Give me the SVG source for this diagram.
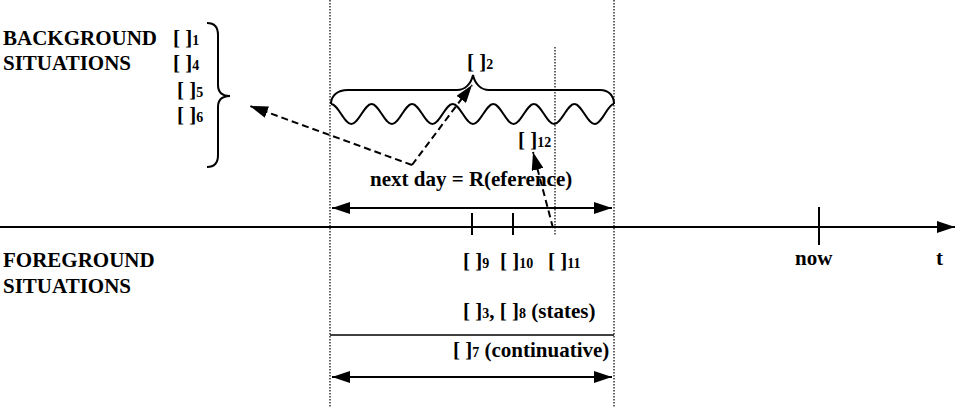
<svg xmlns="http://www.w3.org/2000/svg" width="964" height="408" viewBox="0 0 964 408">
<style>
text{font-family:'Liberation Serif','Times New Roman','DejaVu Serif',serif;font-weight:700;font-size:21px;fill:#000}
.sub{font-size:14px}
.dot{stroke:#000;stroke-width:1.2;stroke-dasharray:1.5 1.5;fill:none}
.solid{stroke:#000;fill:none;stroke-width:2}
.dash{stroke:#000;fill:none;stroke-width:2;stroke-dasharray:7 4}
</style>
<defs>
<marker id="ah" viewBox="0 0 18 12" refX="18" refY="6" markerWidth="18" markerHeight="12" markerUnits="userSpaceOnUse" orient="auto-start-reverse">
<path d="M0,0 L18,6 L0,12 z" fill="#000"/>
</marker>
</defs>
<rect width="964" height="408" fill="#fff"/>

<g id="borders">
<line class="dot" x1="330" y1="0" x2="330" y2="408"/>
<line class="dot" x1="614" y1="0" x2="614" y2="408"/>
<line class="dot" x1="555" y1="47" x2="555" y2="235"/>
</g>

<g id="background-label">
<text x="3" y="45">BACKGROUND</text>
<text x="3" y="70">SITUATIONS</text>
<text x="173" y="45">[ ]<tspan class="sub">1</tspan></text>
<text x="173" y="70">[ ]<tspan class="sub">4</tspan></text>
<text x="177" y="97">[ ]<tspan class="sub">5</tspan></text>
<text x="177" y="122">[ ]<tspan class="sub">6</tspan></text>
<path class="solid" d="M207,23 C215,23 218,27 218,35 L218,85 C218,92 222,96 230,96 C222,96 218,100 218,107 L218,155 C218,163 215,167 207,167"/>
</g>

<g id="foreground-label">
<text x="3" y="267">FOREGROUND</text>
<text x="3" y="293">SITUATIONS</text>
</g>

<g id="situation2">
<path class="solid" d="M331,104 C331,96 337,90 348,90 L457,90 C465,90 471,84 473,75 C475,84 481,90 489,90 L600,90 C609,90 614,96 614,104"/>
<path class="solid" d="M331,104 C338.3,104 344,124 351.3,124 S364.3,104 371.6,104 S384.6,124 391.9,124 S404.8,104 412.1,104 S425.1,124 432.4,124 S445.4,104 452.7,104 S465.7,124 473,124 S486,104 493.3,104 S506.3,124 513.6,124 S526.6,104 533.9,104 S546.8,124 554.1,124 S567.1,104 574.4,104 S587.4,124 594.7,124 S607.7,104 614,104"/>
<text x="467" y="69">[ ]<tspan class="sub">2</tspan></text>
</g>

<g id="situation12">
<text x="518" y="147">[ ]<tspan class="sub">12</tspan></text>
</g>

<g id="reference">
<text x="370" y="186">next day = R(eference)</text>
</g>

<g id="axis">
<line class="solid" x1="0" y1="227" x2="955" y2="227" stroke-width="2.5" marker-end="url(#ah)"/>
<line class="solid" x1="472" y1="213" x2="472" y2="235"/>
<line class="solid" x1="513" y1="213" x2="513" y2="235"/>
<line class="solid" x1="819" y1="207" x2="819" y2="245"/>
<text x="795" y="265">now</text>
<text x="936" y="265">t</text>
</g>

<g id="events">
<text x="463" y="268">[ ]<tspan class="sub">9</tspan></text>
<text x="500" y="268">[ ]<tspan class="sub">10</tspan></text>
<text x="548" y="268">[ ]<tspan class="sub">11</tspan></text>
</g>

<g id="states">
<text x="463" y="318">[ ]<tspan class="sub">3</tspan>, [ ]<tspan class="sub">8</tspan> (states)</text>
<line x1="330" y1="335" x2="614" y2="335" stroke="#000" stroke-width="1.5"/>
</g>

<g id="continuative">
<text x="453" y="357">[ ]<tspan class="sub">7</tspan> (continuative)</text>
</g>

<g id="connectors">
<line class="solid" x1="332" y1="208" x2="612" y2="208" marker-start="url(#ah)" marker-end="url(#ah)"/>
<line class="solid" x1="332" y1="377" x2="612" y2="377" marker-start="url(#ah)" marker-end="url(#ah)"/>
<line class="dash" x1="412" y1="165" x2="250" y2="106" marker-end="url(#ah)"/>
<line class="dash" x1="412" y1="165" x2="472" y2="85" marker-end="url(#ah)"/>
<line class="dash" x1="553" y1="228" x2="533" y2="152" marker-end="url(#ah)"/>
</g>
</svg>
